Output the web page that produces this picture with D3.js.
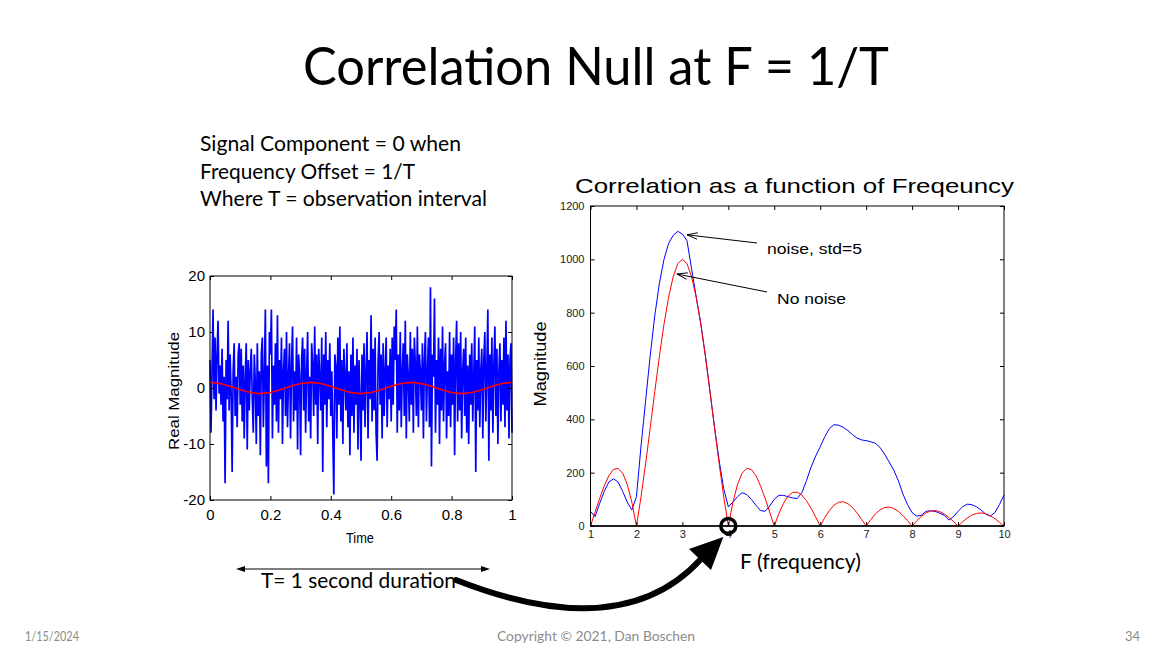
<!DOCTYPE html>
<html>
<head>
<meta charset="utf-8">
<script src="https://cdn.jsdelivr.net/npm/d3@7"></script>
<style>
  html, body { margin: 0; padding: 0; background: #fff; }
  svg { display: block; }
</style>
</head>
<body>
<svg id="chart" width="1169" height="648"></svg>
<script>
// ---------------- DATA ----------------
// Left panel: received samples (noise + signal), 1 second observation
const noiseSamples = [
  5, -8, 3, 14, -2, 9, -4, 6, 12, -1, 4, -3, 7, -6, 2, -17, 5, -2, 12, -4, 6, -1, -15, 3, 8, -5, 2, -7, 6, 8,
  -3, 7, -6, 4, -9, 2, 8, -11, 5, -4, 3, 7, -2, -8, 6, 1, -10, 8, -5, 3, -12, 6, 9, -7, 2, 14, -14, 4, -17, 10,
  6, 14, -9, 4, -3, 8, -6, 13, -8, 5, -2, 9, -10, 3, 7, -5, 10, -7, 2, 8, -9, 4, 11, -6, 3, -4, 9, -11, 6, 2,
  -12, 5, 9, -4, 7, -8, 3, 10, -6, 2, -9, 8, 4, -5, 11, -3, 6, -10, 7, 2, -4, 9, -15, 6, -3, 10, -7, 5, -2, 8,
  -5, 3, -8, -19, 6, 4, -9, 9, -3, 11, -6, 5, -10, 7, 2, -4, 8, -7, 3, -12, 6, -5, 9, -8, 4, -3, 7, -11, 5, -2,
  -13, 6, -4, 8, -7, 3, 10, -9, 5, -2, 13, -6, 7, -4, 9, -8, -13, 5, 10, -3, 6, -9, 8, -5, 3, 9, -7, 4, -2, 7,
  -6, 9, -3, 11, 5, 14, -8, 6, -4, 10, -7, 3, 8, -5, 12, -9, 6, 2, -6, 10, -3, 7, -8, 9, 4, -5, 11, -7, 6, 3,
  -4, 8, -9, 5, 10, -6, 3, 9, -7, 18, -14, 6, 2, 16, -8, 5, -3, 9, -10, 7, -4, 11, -6, 4, 8, -9, 3, -5, 10, -7,
  6, -3, 9, -12, 5, 12, -6, 8, -4, 10, -9, 3, 7, -5, 9, -8, 4, -10, 6, -3, 8, -6, 2, 11, -15, 5, -4, 9, -7, 3,
  7, -9, 5, 10, -6, 3, 14, -13, 6, -4, 9, -8, 4, 11, -5, 7, -10, 3, 8, -6, 5, -3, 9, -7, 12, -4, 6, -9, 5, 8,
  -8
];
// Left panel: signal component (red), sampled every 1/30 s
const signalSamples = [
  1, 0.81, 0.31, -0.31, -0.81, -1, -0.81, -0.31, 0.31, 0.81,
  1, 0.81, 0.31, -0.31, -0.81, -1, -0.81, -0.31, 0.31, 0.81,
  1, 0.81, 0.31, -0.31, -0.81, -1, -0.81, -0.31, 0.31, 0.81,
  1
];
const timeTicks = [0, 0.2, 0.4, 0.6, 0.8, 1];
const timeTickLabels = ["0", "0.2", "0.4", "0.6", "0.8", "1"];
const ampTicks = [-20, -10, 0, 10, 20];
const ampTickLabels = ["-20", "-10", "0", "10", "20"];

// Right panel: correlation magnitude vs frequency (F = 1.0 .. 10.0, step 0.1)
const freqs = [
  1.0, 1.1, 1.2, 1.3, 1.4, 1.5, 1.6, 1.7, 1.8, 1.9,
  2.0, 2.1, 2.2, 2.3, 2.4, 2.5, 2.6, 2.7, 2.8, 2.9,
  3.0, 3.1, 3.2, 3.3, 3.4, 3.5, 3.6, 3.7, 3.8, 3.9,
  4.0, 4.1, 4.2, 4.3, 4.4, 4.5, 4.6, 4.7, 4.8, 4.9,
  5.0, 5.1, 5.2, 5.3, 5.4, 5.5, 5.6, 5.7, 5.8, 5.9,
  6.0, 6.1, 6.2, 6.3, 6.4, 6.5, 6.6, 6.7, 6.8, 6.9,
  7.0, 7.1, 7.2, 7.3, 7.4, 7.5, 7.6, 7.7, 7.8, 7.9,
  8.0, 8.1, 8.2, 8.3, 8.4, 8.5, 8.6, 8.7, 8.8, 8.9,
  9.0, 9.1, 9.2, 9.3, 9.4, 9.5, 9.6, 9.7, 9.8, 9.9,
  10.0
];
const noNoise = [
  0, 52, 104, 151, 189, 212, 216, 198, 156, 89,
  0, 109, 234, 368, 505, 637, 757, 858, 935, 984,
  1000, 984, 935, 858, 757, 637, 505, 368, 234, 109,
  0, 89, 156, 198, 216, 212, 189, 151, 104, 52,
  0, 47, 85, 112, 126, 127, 116, 95, 67, 34,
  0, 32, 58, 78, 89, 91, 84, 70, 49, 25,
  0, 24, 45, 60, 69, 71, 66, 55, 39, 20,
  0, 19, 36, 49, 56, 58, 54, 45, 32, 17,
  0, 16, 30, 41, 47, 49, 46, 38, 28, 14,
  0
];
const withNoise = [
  55, 35, 85, 130, 165, 177, 165, 130, 90, 60,
  110, 300, 470, 640, 790, 910, 1000, 1060, 1090, 1105,
  1095, 1070, 965, 860, 760, 640, 505, 370, 245, 140,
  72, 90, 110, 125, 118, 100, 78, 58, 55, 75,
  100, 115, 115, 110, 105, 103, 125, 170, 220, 262,
  297, 335, 365, 380, 378, 370, 358, 343, 330, 323,
  320, 316, 310, 295, 270, 240, 210, 170, 120, 80,
  50, 37, 40, 55, 57, 55, 48, 40, 22, 35,
  55, 72, 82, 80, 72, 60, 45, 37, 50, 80,
  116
];
const freqTicks = [1, 2, 3, 4, 5, 6, 7, 8, 9, 10];
const magTicks = [0, 200, 400, 600, 800, 1000, 1200];

// ---------------- DRAW ----------------
const svg = d3.select("#chart");
svg.append("rect").attr("width", 1169).attr("height", 648).attr("fill", "#fff");

const slideFont = "Lato, 'Open Sans', 'Noto Sans', sans-serif";
const plotFont = "'Liberation Sans', Arial, sans-serif";

function fitText(sel, len) {
  sel.attr("textLength", len).attr("lengthAdjust", "spacingAndGlyphs");
  return sel;
}

// Slide title
fitText(svg.append("text").attr("x", 303).attr("y", 85)
  .attr("font-family", slideFont).attr("font-size", 52).attr("fill", "#000")
  .text("Correlation Null at F = 1/T"), 586);

// Body text
const bodyLines = ["Signal Component = 0 when", "Frequency Offset = 1/T", "Where T = observation interval"];
const bodyWidths = [261, 215, 287];
bodyLines.forEach((s, i) => {
  fitText(svg.append("text").attr("x", 200).attr("y", 151 + i * 27.5)
    .attr("font-family", slideFont).attr("font-size", 21).attr("fill", "#000").text(s), bodyWidths[i]);
});

// ---------- Left panel ----------
const xL = d3.scaleLinear().domain([0, 1]).range([210, 512]);
const yL = d3.scaleLinear().domain([-20, 20]).range([500, 276]);
const gL = svg.append("g");

const nN = noiseSamples.length;
gL.append("path")
  .datum(noiseSamples)
  .attr("fill", "none").attr("stroke", "#0000ff").attr("stroke-width", 1.7)
  .attr("stroke-linejoin", "miter").attr("stroke-miterlimit", 1.5)
  .attr("d", d3.line().x((d, i) => xL(i / (nN - 1))).y(d => yL(d)));

const nS = signalSamples.length;
gL.append("path")
  .datum(signalSamples)
  .attr("fill", "none").attr("stroke", "#ff0000").attr("stroke-width", 1.6)
  .attr("d", d3.line().x((d, i) => xL(i / (nS - 1))).y(d => yL(d)));

// frame
gL.append("rect").attr("x", xL(0)).attr("y", yL(20))
  .attr("width", xL(1) - xL(0)).attr("height", yL(-20) - yL(20))
  .attr("fill", "none").attr("stroke", "#000").attr("stroke-width", 1);

function styleAxis(g, fs, color) {
  g.select(".domain").remove();
  g.selectAll(".tick line").attr("stroke", "#000");
  g.selectAll(".tick text").attr("font-family", plotFont).attr("font-size", fs).attr("fill", color);
}

gL.append("g").attr("transform", `translate(0,${yL(-20)})`)
  .call(d3.axisBottom(xL).tickValues(timeTicks).tickFormat((d, i) => timeTickLabels[i]).tickSizeInner(-4).tickSizeOuter(0).tickPadding(9))
  .call(g => styleAxis(g, 15, "#000"));
gL.append("g").attr("transform", `translate(0,${yL(20)})`)
  .call(d3.axisTop(xL).tickValues(timeTicks).tickFormat("").tickSizeInner(-4).tickSizeOuter(0))
  .call(g => styleAxis(g, 15, "#000"));
gL.append("g").attr("transform", `translate(${xL(0)},0)`)
  .call(d3.axisLeft(yL).tickValues(ampTicks).tickFormat((d, i) => ampTickLabels[i]).tickSizeInner(-4).tickSizeOuter(0).tickPadding(5))
  .call(g => styleAxis(g, 15, "#000"));
gL.append("g").attr("transform", `translate(${xL(1)},0)`)
  .call(d3.axisRight(yL).tickValues(ampTicks).tickFormat("").tickSizeInner(-4).tickSizeOuter(0))
  .call(g => styleAxis(g, 15, "#000"));

fitText(gL.append("text").attr("x", 360).attr("y", 543).attr("text-anchor", "middle")
  .attr("font-family", plotFont).attr("font-size", 15).attr("fill", "#000").text("Time"), 28);
fitText(gL.append("text").attr("transform", "translate(179,391) rotate(-90)").attr("text-anchor", "middle")
  .attr("font-family", plotFont).attr("font-size", 15).attr("fill", "#000").text("Real Magnitude"), 118);

// ---------- Right panel ----------
const xR = d3.scaleLinear().domain([1, 10]).range([590.5, 1004]);
const yR = d3.scaleLinear().domain([0, 1200]).range([526, 206]);
const gR = svg.append("g");

fitText(gR.append("text").attr("x", 575).attr("y", 193)
  .attr("font-family", plotFont).attr("font-size", 21).attr("fill", "#000")
  .text("Correlation as a function of Freqeuncy"), 439);

const lineR = d3.line().x((d, i) => xR(freqs[i])).y(d => yR(d));
gR.append("path").datum(withNoise)
  .attr("fill", "none").attr("stroke", "#0000ff").attr("stroke-width", 1).attr("d", lineR);
gR.append("path").datum(noNoise)
  .attr("fill", "none").attr("stroke", "#ff0000").attr("stroke-width", 1).attr("d", lineR);

gR.append("rect").attr("x", xR(1)).attr("y", yR(1200))
  .attr("width", xR(10) - xR(1)).attr("height", yR(0) - yR(1200))
  .attr("fill", "none").attr("stroke", "#000").attr("stroke-width", 1);
gR.append("line").attr("x1", xR(1)).attr("x2", xR(10)).attr("y1", yR(0)).attr("y2", yR(0))
  .attr("stroke", "#000").attr("stroke-width", 1.5);

gR.append("g").attr("transform", `translate(0,${yR(0)})`)
  .call(d3.axisBottom(xR).tickValues(freqTicks).tickFormat(d3.format("d")).tickSizeInner(-4).tickSizeOuter(0).tickPadding(4))
  .call(g => styleAxis(g, 11, "#222"));
gR.append("g").attr("transform", `translate(0,${yR(1200)})`)
  .call(d3.axisTop(xR).tickValues(freqTicks).tickFormat("").tickSizeInner(-4).tickSizeOuter(0))
  .call(g => styleAxis(g, 11, "#222"));
gR.append("g").attr("transform", `translate(${xR(1)},0)`)
  .call(d3.axisLeft(yR).tickValues(magTicks).tickFormat(d3.format("d")).tickSizeInner(-4).tickSizeOuter(0).tickPadding(6))
  .call(g => styleAxis(g, 11, "#222"));
gR.append("g").attr("transform", `translate(${xR(10)},0)`)
  .call(d3.axisRight(yR).tickValues(magTicks).tickFormat("").tickSizeInner(-4).tickSizeOuter(0))
  .call(g => styleAxis(g, 11, "#222"));

fitText(gR.append("text").attr("transform", "translate(546,364) rotate(-90)").attr("text-anchor", "middle")
  .attr("font-family", plotFont).attr("font-size", 16).attr("fill", "#000").text("Magnitude"), 85);

fitText(gR.append("text").attr("x", 740).attr("y", 569)
  .attr("font-family", slideFont).attr("font-size", 21).attr("fill", "#000").text("F (frequency)"), 121);

// annotation arrows
function openArrow(g, x1, y1, x2, y2) {
  g.append("line").attr("x1", x1).attr("y1", y1).attr("x2", x2).attr("y2", y2)
    .attr("stroke", "#000").attr("stroke-width", 1);
  const a = Math.atan2(y1 - y2, x1 - x2);
  const L = 11, w = 0.3;
  [a - w, a + w].forEach(b => {
    g.append("line").attr("x1", x2).attr("y1", y2)
      .attr("x2", x2 + L * Math.cos(b)).attr("y2", y2 + L * Math.sin(b))
      .attr("stroke", "#000").attr("stroke-width", 1);
  });
}
openArrow(gR, 757, 243, xR(3.1), yR(1092));
openArrow(gR, 767, 292, xR(2.88), yR(945));

fitText(gR.append("text").attr("x", 767).attr("y", 254)
  .attr("font-family", plotFont).attr("font-size", 15).attr("fill", "#000").text("noise, std=5"), 95);
fitText(gR.append("text").attr("x", 777).attr("y", 304)
  .attr("font-family", plotFont).attr("font-size", 15).attr("fill", "#000").text("No noise"), 69);

// null marker at F = 1/T offset
gR.append("circle").attr("cx", xR(4)).attr("cy", yR(0)).attr("r", 7.5)
  .attr("fill", "none").attr("stroke", "#000").attr("stroke-width", 3.5);

// ---------- Duration arrow & curved arrow ----------
const gA = svg.append("g");
gA.append("line").attr("x1", 243).attr("x2", 483).attr("y1", 569).attr("y2", 569)
  .attr("stroke", "#000").attr("stroke-width", 1.2);
gA.append("path").attr("d", "M236,569 L245,566 L245,572 Z").attr("fill", "#000");
gA.append("path").attr("d", "M490,569 L481,566 L481,572 Z").attr("fill", "#000");

fitText(gA.append("text").attr("x", 261).attr("y", 588)
  .attr("font-family", slideFont).attr("font-size", 21).attr("fill", "#000").text("T= 1 second duration"), 195);

gA.append("path").attr("d", "M456,580 C570,625 650,615 701,559")
  .attr("fill", "none").attr("stroke", "#000").attr("stroke-width", 6).attr("stroke-linecap", "round");
gA.append("path").attr("d", `M${xR(4) - 5},${yR(0) + 11} L689,549 L711,570 Z`).attr("fill", "#000");

// ---------- Footer ----------
const footCol = "#8b8b8b";
fitText(svg.append("text").attr("x", 25).attr("y", 641).attr("font-family", slideFont).attr("font-size", 13)
  .attr("fill", footCol).text("1/15/2024"), 54);
fitText(svg.append("text").attr("x", 497).attr("y", 641).attr("font-family", slideFont).attr("font-size", 13)
  .attr("fill", footCol).text("Copyright © 2021, Dan Boschen"), 198);
svg.append("text").attr("x", 1140).attr("y", 641).attr("text-anchor", "end").attr("font-family", slideFont).attr("font-size", 13)
  .attr("fill", footCol).text("34");
</script>
</body>
</html>
